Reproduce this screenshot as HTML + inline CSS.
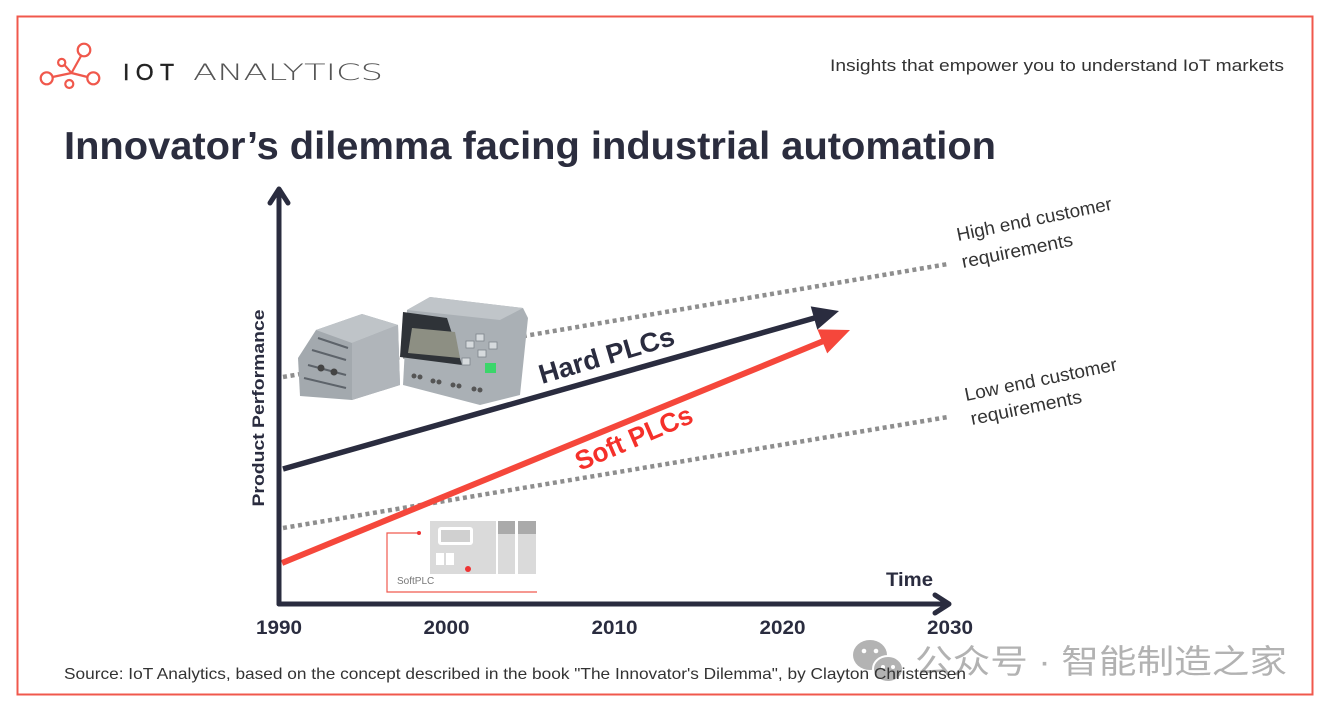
<!DOCTYPE html>
<html><head><meta charset="utf-8"><style>
html,body{margin:0;padding:0;background:#fff;}
svg{display:block;}
</style></head><body>
<svg width="1331" height="713" viewBox="0 0 1331 713" xmlns="http://www.w3.org/2000/svg">
<rect x="0" y="0" width="1331" height="713" fill="#fff"/>
<rect x="17.5" y="16.5" width="1295" height="678" fill="none" stroke="#f0584c" stroke-width="2"/>

<!-- logo -->
<g fill="none" stroke="#f0584c" stroke-width="2.2">
<circle cx="84" cy="50" r="6.3"/>
<circle cx="61.7" cy="62.5" r="3.6"/>
<circle cx="46.7" cy="78.3" r="6"/>
<circle cx="69.3" cy="84" r="4"/>
<circle cx="93.3" cy="78.3" r="6"/>
<line x1="81" y1="56" x2="71.5" y2="73"/>
<line x1="52.5" y1="77" x2="71.5" y2="73"/>
<line x1="71.5" y1="73" x2="87.5" y2="77"/>
<line x1="64.5" y1="65" x2="71.5" y2="73"/>
</g>
<text x="123" y="80" font-family="Liberation Sans, sans-serif" font-size="23" fill="#222" stroke="#222" stroke-width="0.4" textLength="51" lengthAdjust="spacing">IOT</text>
<text x="193" y="80" font-family="DejaVu Sans, sans-serif" font-size="22" fill="#555" textLength="190" lengthAdjust="spacingAndGlyphs" style="font-weight:100">ANALYTICS</text>

<text x="830" y="71" font-family="Liberation Sans, sans-serif" font-size="17" fill="#333" textLength="454" lengthAdjust="spacingAndGlyphs">Insights that empower you to understand IoT markets</text>

<text x="64" y="159" font-family="Liberation Sans, sans-serif" font-size="39" font-weight="bold" fill="#2b2d3e" textLength="932" lengthAdjust="spacingAndGlyphs">Innovator’s dilemma facing industrial automation</text>

<!-- dotted lines -->
<g stroke="#8e8e8e" stroke-width="4.5" stroke-dasharray="4 3.6" fill="none">
<line x1="283" y1="377" x2="948" y2="264"/>
<line x1="283" y1="528" x2="948" y2="417"/>
</g>

<!-- PLC image -->
<g>
<polygon points="298,358 316,330 362,314 398,325 400,385 352,400 300,396" fill="#a3a9ae"/>
<polygon points="316,330 362,314 398,325 352,343" fill="#bfc4c8"/>
<polygon points="352,343 398,325 400,385 352,400" fill="#b0b5ba"/>
<g stroke="#5d636a" stroke-width="2">
<line x1="318" y1="338" x2="348" y2="348"/>
<line x1="312" y1="350" x2="346" y2="360"/>
<line x1="308" y1="365" x2="346" y2="375"/>
<line x1="304" y1="378" x2="346" y2="388"/>
</g>
<circle cx="321" cy="368" r="3.5" fill="#444"/>
<circle cx="334" cy="372" r="3.5" fill="#444"/>
<polygon points="407,310 430,297 523,308 528,318 520,395 480,405 403,385" fill="#aab0b5"/>
<polygon points="407,310 430,297 523,308 500,320" fill="#c0c5c9"/>
<polygon points="403,312 447,318 462,365 400,357" fill="#2f3338"/>
<polygon points="412,328 455,332 460,358 408,353" fill="#8d8f83"/>
<g fill="#d6dadd" stroke="#7d848a" stroke-width="0.8">
<rect x="476" y="334" width="8" height="7"/>
<rect x="489" y="342" width="8" height="7"/>
<rect x="466" y="341" width="8" height="7"/>
<rect x="478" y="350" width="8" height="7"/>
<rect x="462" y="358" width="8" height="7"/>
</g>
<rect x="485" y="363" width="11" height="10" fill="#3bd66a"/>
<g fill="#555">
<circle cx="414" cy="376" r="2.5"/><circle cx="420" cy="377" r="2.5"/>
<circle cx="433" cy="381" r="2.5"/><circle cx="439" cy="382" r="2.5"/>
<circle cx="453" cy="385" r="2.5"/><circle cx="459" cy="386" r="2.5"/>
<circle cx="474" cy="389" r="2.5"/><circle cx="480" cy="390" r="2.5"/>
</g>
</g>

<!-- SoftPLC icon -->
<g>
<rect x="430" y="521" width="66" height="53" fill="#dadada"/>
<rect x="498" y="521" width="17" height="53" fill="#dadada"/>
<rect x="518" y="521" width="18" height="53" fill="#dadada"/>
<rect x="498" y="521" width="17" height="13" fill="#aaa"/>
<rect x="518" y="521" width="18" height="13" fill="#aaa"/>
<rect x="438" y="527" width="35" height="18" rx="3" fill="#fff"/>
<rect x="441" y="530" width="29" height="12" fill="#d0d0d0"/>
<rect x="436" y="553" width="8" height="12" fill="#fff"/>
<rect x="446" y="553" width="8" height="12" fill="#fff"/>
<circle cx="468" cy="569" r="3" fill="#e33"/>
<polyline points="419,533 387,533 387,592 537,592" fill="none" stroke="#f05a4f" stroke-width="1.2"/>
<circle cx="419" cy="533" r="2" fill="#e33"/>
<text x="397" y="584" font-family="Liberation Sans, sans-serif" font-size="10" fill="#777">SoftPLC</text>
</g>

<!-- Hard PLC arrow -->
<line x1="283" y1="469" x2="818" y2="317" stroke="#2a2c3f" stroke-width="5.5"/>
<polygon points="839,311 817.3,329.6 810.7,306.4" fill="#2a2c3f"/>
<!-- Soft PLC arrow -->
<line x1="282" y1="563" x2="826" y2="340" stroke="#f5473b" stroke-width="6"/>
<polygon points="850,330 827.2,353.4 817.4,329.4" fill="#f5473b"/>

<text transform="translate(542,384) rotate(-16.5)" font-family="Liberation Sans, sans-serif" font-size="27" font-weight="bold" fill="#2a2c3f" textLength="140" lengthAdjust="spacingAndGlyphs">Hard PLCs</text>
<text transform="translate(580,471) rotate(-23.2)" font-family="Liberation Sans, sans-serif" font-size="27" font-weight="bold" fill="#f5302a" textLength="125" lengthAdjust="spacingAndGlyphs">Soft PLCs</text>

<!-- requirement labels -->
<g font-family="Liberation Sans, sans-serif" font-size="18.5" fill="#333">
<text transform="translate(958,241) rotate(-11.5)" textLength="158" lengthAdjust="spacingAndGlyphs">High end customer</text>
<text transform="translate(963,268) rotate(-11.5)" textLength="113" lengthAdjust="spacingAndGlyphs">requirements</text>
<text transform="translate(966,401) rotate(-11.5)" textLength="155" lengthAdjust="spacingAndGlyphs">Low end customer</text>
<text transform="translate(972,425) rotate(-11.5)" textLength="113" lengthAdjust="spacingAndGlyphs">requirements</text>
</g>

<!-- axes -->
<g stroke="#2a2c3f" stroke-width="5" fill="none" stroke-linecap="round" stroke-linejoin="round">
<line x1="279" y1="604" x2="279" y2="190"/>
<polyline points="270,203 279,189 288,203"/>
<line x1="279" y1="604" x2="948" y2="604"/>
<polyline points="935,595 949,604 935,613"/>
</g>

<text transform="translate(264,408) rotate(-90)" text-anchor="middle" font-family="Liberation Sans, sans-serif" font-size="17" font-weight="bold" fill="#2a2c3f" textLength="197" lengthAdjust="spacingAndGlyphs">Product Performance</text>
<text x="886" y="586" font-family="Liberation Sans, sans-serif" font-size="19" font-weight="bold" fill="#2a2c3f" textLength="47" lengthAdjust="spacingAndGlyphs">Time</text>

<g font-family="Liberation Sans, sans-serif" font-size="19" font-weight="bold" fill="#2a2c3f" text-anchor="middle">
<text x="279" y="634" textLength="46" lengthAdjust="spacingAndGlyphs">1990</text>
<text x="446.5" y="634" textLength="46" lengthAdjust="spacingAndGlyphs">2000</text>
<text x="614.5" y="634" textLength="46" lengthAdjust="spacingAndGlyphs">2010</text>
<text x="782.5" y="634" textLength="46" lengthAdjust="spacingAndGlyphs">2020</text>
<text x="950" y="634" textLength="46" lengthAdjust="spacingAndGlyphs">2030</text>
</g>

<!-- watermark -->
<g>
<ellipse cx="870" cy="655" rx="17" ry="15" fill="#b3b3b3"/>
<ellipse cx="888" cy="669" rx="15" ry="13" fill="#b3b3b3" stroke="#fff" stroke-width="2"/>
<circle cx="864" cy="651" r="2.3" fill="#fff"/>
<circle cx="876" cy="651" r="2.3" fill="#fff"/>
<circle cx="883" cy="667" r="2" fill="#fff"/>
<circle cx="893" cy="667" r="2" fill="#fff"/>
</g>
<text x="915" y="673" font-family="Liberation Sans, 'Noto Sans CJK SC', sans-serif" font-size="33" fill="#aaa" fill-opacity="0.9" textLength="372" lengthAdjust="spacingAndGlyphs">公众号 · 智能制造之家</text>

<text x="64" y="679" font-family="Liberation Sans, sans-serif" font-size="16" fill="#333" textLength="902" lengthAdjust="spacingAndGlyphs">Source: IoT Analytics, based on the concept described in the book "The Innovator's Dilemma", by Clayton Christensen</text>
</svg>
</body></html>
